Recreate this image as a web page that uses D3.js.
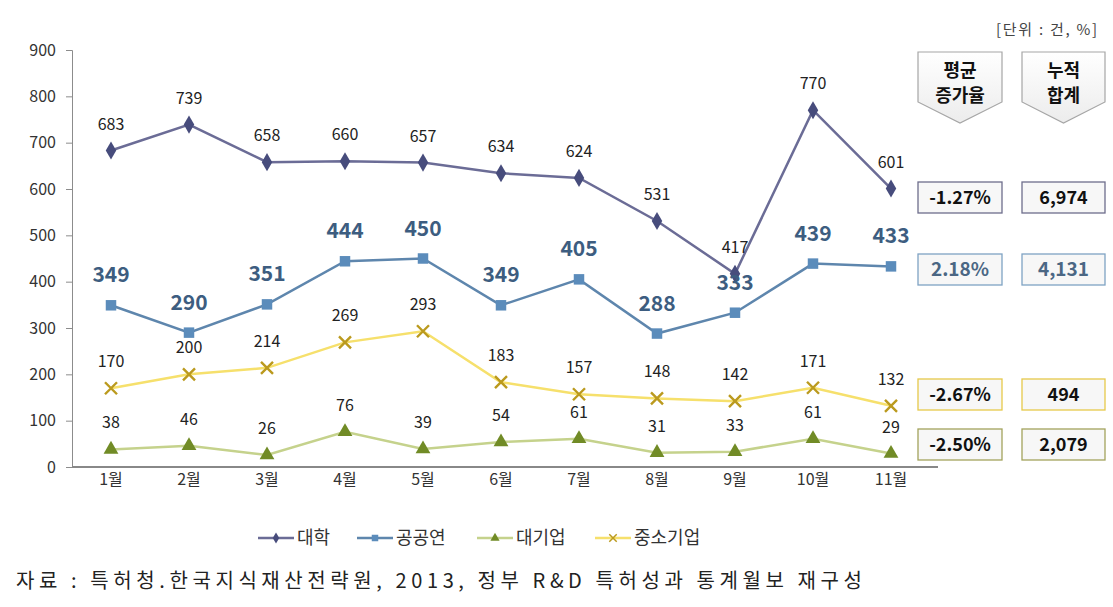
<!DOCTYPE html>
<html><head><meta charset="utf-8">
<script src="https://cdn.jsdelivr.net/npm/d3@7"></script>
<style>
body{margin:0;background:#fff;}
svg{display:block;font-family:"Noto Sans CJK KR","Noto Sans",sans-serif;}
</style></head>
<body><svg id="c" width="1113" height="607"></svg>
<script>
const months = ["1월","2월","3월","4월","5월","6월","7월","8월","9월","10월","11월"];
const seriesNames = ["대학","공공연","대기업","중소기업"];
const univ = [683,739,658,660,657,634,624,531,417,770,601];
const publicInst = [349,290,351,444,450,349,405,288,333,439,433];
const largeCorp = [38,46,26,76,39,54,61,31,33,61,29];
const smeCorp = [170,200,214,269,293,183,157,148,142,171,132];
const yTicks = [0,100,200,300,400,500,600,700,800,900];
const growthRates = ["-1.27%","2.18%","-2.67%","-2.50%"];
const totals = ["6,974","4,131","494","2,079"];
const boxSeries = ["대학","공공연","중소기업","대기업"];
const unitLabel = "[단위 : 건, %]";
const headers = [["평균","증가율"],["누적","합계"]];
const sourceText = "자료 : 특허청.한국지식재산전략원, 2013, 정부 R&D 특허성과 통계월보 재구성";

const svg = d3.select("#c");
const x = d3.scaleBand().domain(months).range([72,930]);
const y = d3.scaleLinear().domain([0,900]).range([467,50]);
const cx = m => x(m) + x.bandwidth()/2;

// y axis
const yAxis = svg.append("g").attr("transform","translate(72,0)")
  .call(d3.axisLeft(y).tickValues(yTicks).tickSize(6).tickPadding(10));
yAxis.select(".domain").attr("stroke","#8c8c8c");
yAxis.selectAll(".tick line").attr("stroke","#8c8c8c");
yAxis.selectAll(".tick text").attr("fill","#333").attr("font-size",16).attr("font-family","'Noto Sans CJK KR'");

// x axis
const xAxis = svg.append("g").attr("transform","translate(0,467)")
  .call(d3.axisBottom(x).tickSize(0).tickPadding(7));
xAxis.select(".domain").attr("stroke","#888").attr("stroke-width",2.2).attr("d","M72,0H938");
xAxis.selectAll(".tick text").attr("fill","#333").attr("font-size",16).attr("font-family","'Noto Sans CJK KR'");

const series = [
  {name:"대기업", data:largeCorp, line:"#c5d28c", mark:"#718b26", sym:d3.symbolTriangle, size:95, label:{fs:16,fw:"normal",fill:"#222"}},
  {name:"중소기업", data:smeCorp, line:"#f6e06c", mark:"#bb9a1e", sym:"x", size:0, label:{fs:16,fw:"normal",fill:"#222"}},
  {name:"공공연", data:publicInst, line:"#5e86ad", mark:"#5b8cbb", sym:d3.symbolSquare, size:110, label:{fs:21,fw:"bold",fill:"#3d5d80"}},
  {name:"대학", data:univ, line:"#6b6c96", mark:"#474c7c", sym:d3.symbolDiamond, size:95, label:{fs:16,fw:"normal",fill:"#222"}}
];

const line = d3.line().x((d,i)=>cx(months[i])).y(d=>y(d));

function drawMarker(g, s, px, py, scale){
  if(s.sym==="x"){
    const r = 6*scale;
    g.append("path").attr("d",`M${px-r},${py-r}L${px+r},${py+r}M${px-r},${py+r}L${px+r},${py-r}`)
      .attr("stroke",s.mark).attr("stroke-width",2.4*scale).attr("fill","none");
  } else {
    g.append("path").attr("d",d3.symbol().type(s.sym).size(s.size*scale*scale)())
      .attr("transform",`translate(${px},${py})`).attr("fill",s.mark);
  }
}

series.forEach(s=>{
  const g = svg.append("g");
  g.append("path").datum(s.data).attr("d",line).attr("fill","none")
    .attr("stroke",s.line).attr("stroke-width",2.5);
  s.data.forEach((v,i)=>drawMarker(g,s,cx(months[i]),y(v),1));
});
series.forEach(s=>{
  svg.append("g").selectAll("text").data(s.data).join("text")
    .attr("x",(d,i)=>cx(months[i])).attr("y",d=>y(d)-(s.label.fs>16?23:21))
    .attr("text-anchor","middle").attr("font-size",s.label.fs).attr("font-weight",s.label.fw)
    .attr("fill",s.label.fill).text(d=>d);
});

// legend
const legendOrder = ["대학","공공연","대기업","중소기업"];
const legX = [258,357,477,595];
legendOrder.forEach((n,i)=>{
  const s = series.find(d=>d.name===n);
  const g = svg.append("g");
  const lx = legX[i], ly = 538;
  g.append("line").attr("x1",lx).attr("x2",lx+36).attr("y1",ly).attr("y2",ly)
    .attr("stroke",s.line).attr("stroke-width",2.5);
  drawMarker(g,s,lx+18,ly,0.62);
  g.append("text").attr("x",lx+39).attr("y",ly+6).attr("font-size",18).attr("fill","#333").text(n);
});

// unit label
svg.append("text").attr("x",996).attr("y",35)
  .attr("font-size",15).attr("fill","#444").attr("textLength",101).attr("lengthAdjust","spacing").text(unitLabel);

// header pentagons
const colX = [918,1022], colW = [84,83];
const defs = svg.append("defs");
const grad = defs.append("linearGradient").attr("id","hg").attr("x1",0).attr("y1",0).attr("x2",0).attr("y2",1);
grad.append("stop").attr("offset","0%").attr("stop-color","#ffffff");
grad.append("stop").attr("offset","100%").attr("stop-color","#ececec");
headers.forEach((h,i)=>{
  const x0 = colX[i], w = colW[i];
  svg.append("path").attr("d",`M${x0},52H${x0+w}V102L${x0+w/2},123L${x0},102Z`)
    .attr("fill","url(#hg)").attr("stroke","#a6a6a6").attr("stroke-width",1.2);
  h.forEach((t,j)=>svg.append("text").attr("x",x0+w/2).attr("y",77+j*25).attr("text-anchor","middle")
    .attr("font-size",18).attr("font-weight","bold").attr("fill","#111").text(t));
});

// value boxes
const boxTop = {"대학":182,"공공연":254,"중소기업":379,"대기업":429};
const boxStyle = {
  "대학":{stroke:"#6e6e8c",fill:"#111"},
  "공공연":{stroke:"#7fa3c4",fill:"#4b6784"},
  "중소기업":{stroke:"#e6c94a",fill:"#111"},
  "대기업":{stroke:"#a3a35c",fill:"#111"}
};
boxSeries.forEach((n,i)=>{
  const st = boxStyle[n], top = boxTop[n];
  [growthRates[i], totals[i]].forEach((t,j)=>{
    svg.append("rect").attr("x",colX[j]).attr("y",top).attr("width",colW[j]).attr("height",31)
      .attr("fill","#f7f7f7").attr("stroke",st.stroke).attr("stroke-width",1.3);
    svg.append("text").attr("x",colX[j]+colW[j]/2).attr("y",top+22).attr("text-anchor","middle")
      .attr("font-size",n==="공공연"?19:18).attr("font-weight",n==="공공연"?"600":"bold")
      .attr("fill",st.fill).text(t);
  });
});

// source
svg.append("text").attr("x",16).attr("y",588).attr("font-size",20).attr("fill","#222")
  .attr("textLength",846).attr("lengthAdjust","spacing").text(sourceText);
</script></body></html>
